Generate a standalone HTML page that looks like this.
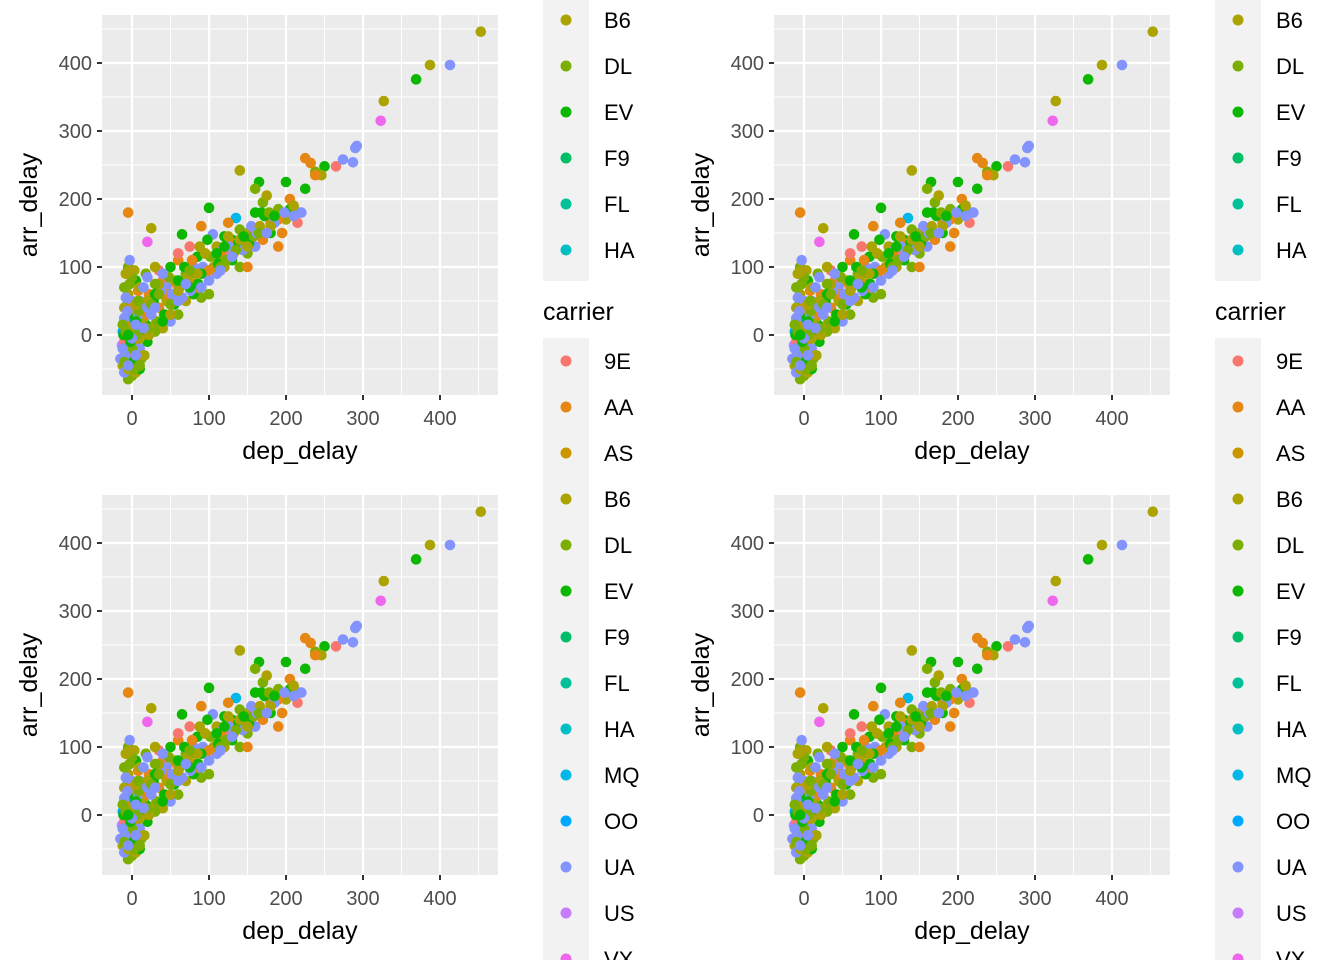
<!DOCTYPE html>
<html><head><meta charset="utf-8"><style>
html,body{margin:0;padding:0;background:#fff;width:1344px;height:960px;overflow:hidden;}
svg{display:block;font-family:"Liberation Sans",Arial,sans-serif;overflow:hidden;}
</style></head><body>
<svg id="chart" width="1344" height="960" viewBox="0 0 1344 960"></svg>
<script>
const carriers=["9E","AA","AS","B6","DL","EV","F9","FL","HA","MQ","OO","UA","US","VX","WN","YV"];
const colors=["#F8766D","#E68613","#CD9600","#ABA300","#7CAE00","#0CB702","#00BE67","#00C19A","#00BFC4","#00B8E7","#00A9FF","#8494FF","#C77CFF","#ED68ED","#FF61CC","#FF68A1"];
const xTicks=[0,100,200,300,400];
const yTicks=[0,100,200,300,400];
// [dep_delay, arr_delay] pairs per carrier
const pts9E=[[265,248],[215,165],[75,130],[35,95],[-8,-30],[4,10],[58,75],[40,80],[120,120],[-10,-10],[10,30],[60,120]];
const ptsAA=[[232,253],[225,260],[205,200],[195,150],[125,165],[90,160],[60,110],[-5,180],[170,140],[-10,20],[8,65],[2,-15],[35,40],[78,110],[96,95],[115,120],[148,140],[190,170],[22,60],[-3,-20],[190,130],[130,135],[85,70],[45,60],[20,30],[0,40],[-5,-40],[150,100],[180,165],[238,235],[100,95]];
const ptsAS=[[10,20],[50,60],[-8,0],[30,15],[80,75]];
const ptsB6=[[453,446],[387,397],[327,344],[246,235],[175,205],[150,150],[140,242],[110,130],[55,80],[30,100],[25,157],[200,170],[120,100],[70,50],[40,10],[-12,-45],[-5,60],[3,95],[15,25],[10,-5],[22,0],[45,50],[72,85],[88,130],[106,100],[132,120],[166,160],[-8,90],[5,-55],[-5,-50],[0,10],[10,70],[20,50],[35,75],[60,65],[95,120],[140,140],[180,160],[210,190],[-10,40],[15,-30],[50,30],[85,90],[150,130],[125,145],[5,45],[-3,95]];
const ptsDL=[[238,240],[210,178],[190,185],[170,195],[160,215],[140,155],[95,120],[70,90],[40,60],[100,60],[90,55],[150,120],[140,100],[60,30],[30,5],[5,-40],[0,-60],[-5,-65],[-2,40],[0,85],[-5,100],[12,40],[6,20],[16,-30],[32,20],[48,85],[62,70],[82,90],[102,115],[122,110],[158,145],[178,180],[-10,70],[30,75],[18,90],[12,-35],[10,-45],[9,35],[0,-20],[-8,5],[5,0],[20,10],[25,45],[50,45],[75,95],[115,100],[135,125],[165,150],[-3,75],[8,50],[-10,-40],[3,-50],[35,60],[-12,15]];
const ptsEV=[[369,376],[250,248],[200,225],[165,225],[168,180],[130,140],[120,145],[100,187],[85,115],[65,148],[50,100],[180,150],[130,110],[80,60],[20,-10],[-5,30],[5,80],[18,15],[14,5],[28,50],[42,30],[55,45],[68,100],[86,75],[98,140],[112,105],[138,135],[152,135],[172,175],[205,185],[0,-40],[-11,0],[10,-50],[40,20],[90,90],[110,120],[145,145],[185,175],[225,215],[60,80],[30,60],[-2,-10],[5,20],[160,180],[120,130],[75,70],[-5,0]];
const ptsF9=[[-10,-20],[-3,75]];
const ptsFL=[[-4,-5]];
const ptsHA=[[-6,45],[-7,-15]];
const ptsMQ=[[135,172],[-5,-10],[1,5],[-6,15]];
const ptsOO=[[-12,5],[-2,20]];
const ptsUA=[[413,397],[292,278],[290,275],[287,254],[274,258],[217,180],[182,170],[155,160],[118,125],[105,148],[80,100],[45,70],[110,90],[160,130],[100,80],[50,20],[10,-20],[-10,-55],[-3,0],[0,50],[-3,110],[10,50],[-15,-35],[8,30],[25,30],[38,65],[52,60],[65,55],[76,65],[92,100],[126,130],[144,125],[162,150],[185,165],[198,180],[220,180],[15,70],[20,40],[-9,-30],[-6,35],[-12,-20],[-8,55],[0,-5],[5,-30],[15,10],[30,40],[60,50],[70,75],[130,115],[175,150],[210,175],[-10,25],[20,85],[40,90],[90,70],[115,95],[-5,-45],[5,15]];
const ptsUS=[[-13,-15],[-4,10],[-5,-55]];
const ptsVX=[[323,315],[20,137],[-8,10],[-7,-50],[-6,-20],[-9,-5]];
const ptsWN=[[-3,-25],[2,5]];
const ptsYV=[];
const seriesPts=[pts9E,ptsAA,ptsAS,ptsB6,ptsDL,ptsEV,ptsF9,ptsFL,ptsHA,ptsMQ,ptsOO,ptsUA,ptsUS,ptsVX,ptsWN,ptsYV];
const drawOrder=[3,4,1,11,5,0,2,9,13,6,7,8,10,12,14,15];

const svg=document.getElementById('chart');
const NS='http://www.w3.org/2000/svg';
function mk(tag,attrs,parent){const e=document.createElementNS(NS,tag);for(const k in attrs)e.setAttribute(k,attrs[k]);(parent||svg).appendChild(e);return e;}

const offsets=[[0,0],[672,0],[0,480],[672,480]];
offsets.forEach(function(o,pi){
  const ox=o[0],oy=o[1];
  const g=mk('g',{});
  
  
  const L=ox+102,R=ox+498,T=oy+15,B=oy+395;
  const xs=v=>ox+132+v*0.77;
  const ys=v=>oy+335-v*0.68;
  const bg=mk('rect',{x:L,y:T,width:R-L,height:B-T,fill:'#EBEBEB'},g);
  
  
  for(let v=-50;v<=450;v+=100){
    mk('line',{x1:xs(v),x2:xs(v),y1:T,y2:B,stroke:'#fff','stroke-width':1},g);
    mk('line',{x1:L,x2:R,y1:ys(v),y2:ys(v),stroke:'#fff','stroke-width':1},g);
  }
  xTicks.forEach(function(v){
    mk('line',{x1:xs(v),x2:xs(v),y1:T,y2:B,stroke:'#fff','stroke-width':2.2},g);
    mk('line',{x1:xs(v),x2:xs(v),y1:B,y2:B+5,stroke:'#333','stroke-width':2},g);
    const t=mk('text',{x:xs(v),y:B+30,'text-anchor':'middle','font-size':20,fill:'#4D4D4D'},g);
    t.textContent=v;
    
    
  });
  yTicks.forEach(function(v){
    mk('line',{x1:L,x2:R,y1:ys(v),y2:ys(v),stroke:'#fff','stroke-width':2.2},g);
    mk('line',{x1:L-5,x2:L,y1:ys(v),y2:ys(v),stroke:'#333','stroke-width':2},g);
    const t=mk('text',{x:L-10,y:ys(v)+7,'text-anchor':'end','font-size':20,fill:'#4D4D4D'},g);
    t.textContent=v;
    
    
  });
  const maxLen=Math.max.apply(null,seriesPts.map(s=>s.length));
  for(let i=0;i<maxLen;i++){
    drawOrder.forEach(function(ci){
      const p=seriesPts[ci][i];
      if(!p)return;
      const c=mk('circle',{cx:xs(p[0]),cy:ys(p[1]),r:5.3,fill:colors[ci]},g);
      
      
    });
  }
  const xt=mk('text',{x:ox+300,y:oy+459,'text-anchor':'middle','font-size':25,fill:'#000'},g);
  xt.textContent='dep_delay';
  
  
  const yt=mk('text',{x:0,y:0,'text-anchor':'middle','font-size':25,fill:'#000',transform:'translate('+(ox+37)+','+(oy+205)+') rotate(-90)'},g);
  yt.textContent='arr_delay';
  
  
});

function legend(ox,firstCenter,bgTop,bgBottom,titleY){
  const g=mk('g',{});
  
  
  mk('rect',{x:ox+543,y:bgTop,width:46,height:bgBottom-bgTop,fill:'#F2F2F2'},g);
  if(titleY!==null){
    const t=mk('text',{x:ox+543,y:titleY,'font-size':25,fill:'#000'},g);
    t.textContent='carrier';
    
    
  }
  carriers.forEach(function(c,i){
    const cy=firstCenter+i*46;
    if(cy<bgTop-10||cy>bgBottom)return;
    const e=mk('g',{},g);
    
    
    mk('circle',{cx:ox+566,cy:cy,r:5.5,fill:colors[i]},e);
    const t=mk('text',{x:ox+604,y:cy+8,'font-size':22,fill:'#000'},e);
    t.textContent=c;
  });
}
[0,672].forEach(function(ox){
  legend(ox,-118,0,281,null);
  legend(ox,361,338,960,320);
});
</script>
</body></html>
